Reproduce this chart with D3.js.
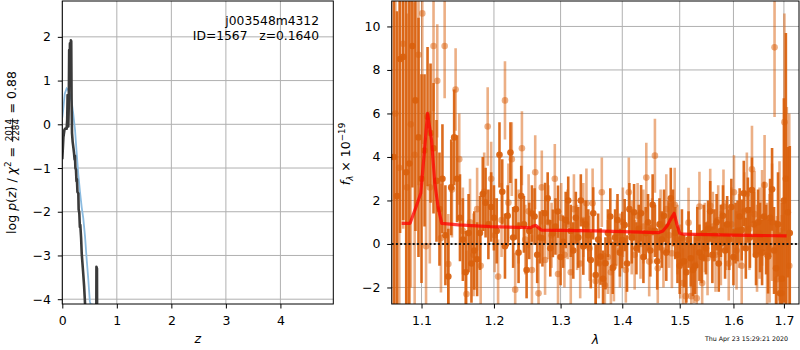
<!DOCTYPE html>
<html><head><meta charset="utf-8">
<script src="https://cdn.jsdelivr.net/npm/d3@7"></script>
<style>
body{margin:0;background:#fff;}
svg{display:block;font-family:"DejaVu Sans",sans-serif;}
</style></head><body>
<svg id="c" width="800" height="350"></svg>
<script>
// ---------------- DATA ----------------
// Left panel: log p(z)
const pzZ = [0.000,0.020,0.040,0.060,0.080,0.090,0.097,0.103,0.110,0.118,0.126,0.132,0.140,0.150,0.158,0.164,0.170,0.178,0.190,0.205,0.215,0.225,0.232,0.240,0.251,0.260,0.268,0.278,0.294,0.300,0.312,0.322,0.330,0.345,0.356,0.380,0.400,0.417,0.440,0.500,0.620,0.626,0.636,0.642,0.700,4.970];
const pzLog = [-0.80,-0.30,-0.12,-0.09,-0.10,0.10,0.67,0.10,-0.05,0.40,1.70,1.00,1.85,1.40,1.92,1.90,0.60,-0.20,-0.40,-0.55,-0.66,-0.80,-0.72,-1.00,-1.04,-1.30,-1.25,-1.55,-1.58,-1.95,-2.03,-2.35,-2.30,-2.60,-2.95,-3.35,-3.70,-4.10,-4.60,-6.0,-6.0,-3.26,-3.30,-6.0,-6.0,-6.0];
const priorZ = [0.000,0.018,0.045,0.080,0.110,0.140,0.172,0.200,0.233,0.264,0.294,0.325,0.356,0.385,0.417,0.448,0.477,0.505,0.520,0.540,0.560,0.650];
const priorLog = [0.15,0.35,0.70,0.82,0.78,0.68,0.52,0.25,-0.12,-0.66,-1.15,-1.55,-1.90,-2.15,-2.57,-3.10,-3.55,-4.05,-4.12,-4.12,-4.50,-6.0];
const zTicks = [0,1,2,3,4];
const pTicks = [-4,-3,-2,-1,0,1,2];

// Right panel: spectrum (dark beam)
const waveDark = [1.064,1.068,1.072,1.076,1.080,1.084,1.088,1.092,1.096,1.100,
1.104,1.108,1.112,1.116,1.120,1.124,1.128,1.132,1.136,1.140,
1.144,1.148,1.152,1.156,1.160,1.164,1.168,1.172,1.176,1.180,
1.184,1.188,1.192,1.196,1.200,1.204,1.208,1.212,1.216,1.220,
1.224,1.228,1.232,1.236,1.240,1.244,1.248,1.252,1.256,1.260,
1.264,1.268,1.272,1.276,1.280,1.284,1.288,1.292,1.296,1.300,
1.304,1.308,1.312,1.316,1.320,1.324,1.328,1.332,1.336,1.340,
1.344,1.348,1.352,1.356,1.360,1.364,1.368,1.372,1.376,1.380,
1.384,1.388,1.392,1.396,1.400,1.404,1.408,1.412,1.416,1.420,
1.424,1.428,1.432,1.436,1.440,1.444,1.448,1.452,1.456,1.460,
1.464,1.468,1.472,1.476,1.480,1.484,1.488,1.492,1.496,1.500,
1.504,1.508,1.512,1.516,1.520,1.524,1.528,1.532,1.536,1.540,
1.544,1.548,1.552,1.556,1.560,1.564,1.568,1.572,1.576,1.580,
1.584,1.588,1.592,1.596,1.600,1.604,1.608,1.612,1.616,1.620,
1.624,1.628,1.632,1.636,1.640,1.644,1.648,1.652,1.656,1.660,
1.664,1.668,1.672,1.676,1.680,1.684,1.688,1.692,1.696,1.700,
1.704,1.708,1.712];
const fluxDark = [4.0,2.2,8.5,8.6,3.3,3.7,9.1,6.6,4.9,3.0,
4.3,5.85,5.1,4.4,2.9,1.6,3.0,0.4,-1.5,2.6,
4.9,3.0,1.2,0.2,-1.3,0.5,-0.9,-0.3,-0.7,0.5,
2.3,1.9,0.9,1.7,1.2,0.6,4.1,2.4,-0.1,1.3,
4.2,0.3,1.6,-0.4,2.2,0.9,-1.2,0.6,1.4,1.26,
-0.5,0.3,0.26,1.41,2.1,-0.2,0.49,0.8,1.49,-0.6,
0.1,1.1,2.0,0.6,-0.3,1.2,0.3,2.0,-0.12,0.9,
0.4,-0.74,1.41,-1.43,0.2,-0.58,-1.6,-0.89,0.5,1.26,
-1.1,0.3,1.1,-0.4,0.18,0.87,-0.9,1.6,0.3,1.46,
-0.2,0.7,1.41,-0.6,0.5,1.0,-0.3,1.8,0.6,-0.8,
0.9,0.2,1.3,-0.4,0.8,2.1,1.2,0.5,-0.5,-1.0,
0.3,-0.8,-1.3,0.2,-0.66,-1.2,-1.0,0.3,-0.4,-0.6,
0.5,-0.2,0.7,1.5,-0.5,0.4,1.0,-0.9,0.6,1.3,
-0.3,0.9,0.2,1.7,-0.6,0.5,0.6,1.26,0.64,2.33,
-0.2,1.56,0.3,2.48,0.9,-0.5,1.0,0.3,-0.4,1.26,
0.2,-0.58,1.2,2.51,-0.3,-1.12,0.9,-2.27,-1.6,2.0,
3.0,1.46,0.5];
const errDark = [9.5,8.5,8.0,7.5,8.0,7.5,6.5,6.0,5.5,4.8,
3.5,3.2,3.2,3.0,2.8,2.6,2.5,2.3,2.2,2.2,
2.2,2.0,2.0,1.9,1.9,1.8,1.8,1.8,1.7,1.7,
1.7,1.6,1.6,1.6,1.5,1.5,1.5,1.5,1.5,1.4,
1.4,1.4,1.4,1.4,1.4,1.3,1.3,1.3,1.3,1.3,
1.3,1.2,1.3,1.4,1.2,1.3,1.1,1.3,1.2,1.3,
1.2,1.3,1.1,1.2,1.3,1.2,1.4,1.2,1.3,1.1,
1.2,1.3,1.2,1.4,1.2,1.3,1.3,1.2,1.1,1.3,
1.2,1.3,1.2,1.1,1.3,1.2,1.3,1.2,1.2,1.3,
1.2,1.1,1.3,1.2,1.2,1.3,1.2,1.4,1.2,1.3,
1.2,1.3,1.2,1.3,1.2,1.4,1.3,1.2,1.3,1.3,
1.3,1.2,1.4,1.3,1.3,1.2,1.3,1.4,1.3,1.2,
1.3,1.2,1.3,1.4,1.3,1.2,1.3,1.3,1.2,1.4,
1.3,1.3,1.4,1.3,1.3,1.4,1.4,1.3,1.4,1.5,
1.4,1.5,1.4,1.5,1.5,1.4,1.5,1.6,1.5,1.6,
1.6,1.7,1.8,1.9,2.0,2.2,2.4,2.8,3.5,4.7,
6.7,3.0,4.0];

// Right panel: spectrum (light beam)
const waveLight = [1.066,1.071,1.076,1.081,1.086,1.091,1.096,1.101,1.106,1.111,
1.116,1.121,1.126,1.131,1.136,1.141,1.146,1.151,1.156,1.161,
1.166,1.171,1.176,1.181,1.186,1.191,1.196,1.201,1.206,1.211,
1.216,1.221,1.226,1.231,1.236,1.241,1.246,1.251,1.256,1.261,
1.266,1.271,1.276,1.281,1.286,1.291,1.296,1.301,1.306,1.311,
1.316,1.321,1.326,1.331,1.336,1.341,1.346,1.351,1.356,1.361,
1.366,1.371,1.376,1.381,1.386,1.391,1.396,1.401,1.406,1.411,
1.416,1.421,1.426,1.431,1.436,1.441,1.446,1.451,1.456,1.461,
1.466,1.471,1.476,1.481,1.486,1.491,1.496,1.501,1.506,1.511,
1.516,1.521,1.526,1.531,1.536,1.541,1.546,1.551,1.556,1.561,
1.566,1.571,1.576,1.581,1.586,1.591,1.596,1.601,1.606,1.611,
1.616,1.621,1.626,1.631,1.636,1.641,1.646,1.651,1.656,1.661,
1.666,1.671,1.676,1.681,1.686,1.691,1.696,1.701,1.706,1.711];
const fluxLight = [6.0,3.5,9.2,2.6,5.5,4.1,8.7,10.6,-0.1,2.6,
9.1,7.5,0.27,9.1,-0.92,2.5,7.1,3.9,0.6,-2.3,
1.0,-0.5,1.6,-1.0,2.4,5.4,3.0,0.4,-1.5,1.1,
6.6,1.9,3.9,-2.1,0.8,4.4,0.2,1.5,-1.2,3.3,
-2.27,2.6,-0.74,1.0,0.4,3.0,-1.38,1.2,-0.5,0.9,
-1.3,1.6,0.3,-0.9,1.1,1.87,-0.2,1.87,-1.7,-0.9,
2.38,-1.9,-0.6,-1.3,-1.04,0.5,-0.3,1.0,-1.2,2.38,
0.3,-0.5,1.3,0.0,0.8,3.05,-0.81,0.6,4.06,-1.12,
0.9,-0.3,1.6,0.4,-0.43,1.8,0.2,-0.81,-1.8,-2.4,
0.98,-2.4,-1.12,-2.5,1.72,-1.8,0.3,-0.66,1.76,0.8,
-0.5,1.1,-0.2,1.72,0.4,-0.9,0.9,2.38,-0.3,0.6,
-1.0,1.5,2.3,0.7,3.43,1.37,-0.2,0.5,1.2,2.71,
-0.5,-0.2,1.0,9.04,-1.62,0.6,-2.27,5.6,0.3,-1.0];
const errLight = [9.5,9.0,8.5,8.0,7.5,7.0,6.0,6.0,5.0,3.5,
3.0,2.6,2.5,2.4,2.3,2.2,1.9,2.1,2.0,2.0,
2.0,1.9,1.9,1.8,1.8,1.8,1.7,1.7,1.7,1.7,
1.8,1.8,1.7,1.7,1.7,1.7,1.6,1.7,1.6,1.7,
1.6,1.7,1.6,1.7,1.5,1.6,1.7,1.6,1.5,1.6,
1.7,1.6,1.5,1.6,1.7,1.6,1.5,1.6,1.7,1.6,
1.6,1.5,1.7,1.6,1.6,1.5,1.7,1.6,1.5,1.6,
1.7,1.6,1.5,1.6,1.7,1.6,1.6,1.5,1.7,1.6,
1.6,1.7,1.6,1.5,1.6,1.7,1.6,1.7,1.6,1.7,
1.6,1.7,1.6,1.7,1.6,1.7,1.6,1.7,1.7,1.6,
1.7,1.6,1.7,1.7,1.6,1.7,1.7,1.7,1.8,1.7,
1.8,1.8,1.9,1.9,2.0,2.0,2.0,2.1,2.2,2.3,
2.4,2.5,2.7,3.2,2.9,3.2,3.6,5.0,6.0,7.0];

// Best-fit model
const modelWave = [1.074,1.085,1.093,1.099,1.1036,1.108,1.1133,1.1177,1.122,1.127,1.150,1.194,1.254,1.258,1.262,1.270,1.356,1.462,1.470,1.478,1.483,1.490,1.495,1.500,1.506,1.600,1.7055];
const modelFlux = [0.95,0.95,1.72,2.33,4.18,6.0,4.78,2.8,1.72,0.95,0.88,0.80,0.75,0.82,0.85,0.64,0.60,0.52,0.60,0.85,1.10,1.41,0.90,0.49,0.45,0.41,0.37];
const lamTicks = [1.1,1.2,1.3,1.4,1.5,1.6,1.7];
const fTicks = [-2,0,2,4,6,8,10];

const objName = "j003548m4312";
const objInfo = "ID=1567   z=0.1640";
const stamp = "Thu Apr 23 15:29:21 2020";

// ---------------- DRAW ----------------
const svg = d3.select('#c');
svg.append('rect').attr('width',800).attr('height',350).attr('fill','#fff');
const FS = 12.5;
const GRID = '#b0b0b0';

function panel(id, box, xs, ys, xt, yt, xfmt){
  const g = svg.append('g');
  g.append('clipPath').attr('id', id).append('rect')
    .attr('x', box.x0).attr('y', box.y0).attr('width', box.x1-box.x0).attr('height', box.y1-box.y0);
  const gr = g.append('g');
  gr.selectAll(null).data(xt).join('line')
    .attr('x1', d=>xs(d)).attr('x2', d=>xs(d)).attr('y1', box.y0).attr('y2', box.y1)
    .attr('stroke', GRID).attr('stroke-width', 1);
  gr.selectAll(null).data(yt).join('line')
    .attr('y1', d=>ys(d)).attr('y2', d=>ys(d)).attr('x1', box.x0).attr('x2', box.x1)
    .attr('stroke', GRID).attr('stroke-width', 1);
  const content = g.append('g').attr('clip-path', `url(#${id})`);
  return {g, content};
}
function axes(g, box, xs, ys, xt, yt, xfmt){
  const ax = g.append('g').attr('transform', `translate(0,${box.y1})`)
    .call(d3.axisBottom(xs).tickValues(xt).tickFormat(xfmt).tickSize(4.5).tickPadding(7.6).tickSizeOuter(0));
  const ay = g.append('g').attr('transform', `translate(${box.x0},0)`)
    .call(d3.axisLeft(ys).tickValues(yt).tickFormat(d3.format('d')).tickSize(4.5).tickPadding(6.8).tickSizeOuter(0));
  [ax, ay].forEach(a => {
    a.select('.domain').remove();
    a.attr('font-family', '"DejaVu Sans",sans-serif').attr('font-size', FS);
    a.selectAll('line').attr('stroke', '#000').attr('stroke-width', 1);
    a.selectAll('text').attr('fill', '#000');
  });
  g.append('rect').attr('x', box.x0).attr('y', box.y0).attr('width', box.x1-box.x0).attr('height', box.y1-box.y0)
    .attr('fill', 'none').attr('stroke', '#000').attr('stroke-width', 1);
}

// math-like label builder
function mathLabel(g, pieces){
  let x = 0;
  pieces.forEach(p => {
    if (p.frac){
      const n = g.append('text').attr('font-size', p.size).text(p.frac[0]);
      const d = g.append('text').attr('font-size', p.size).text(p.frac[1]);
      const w = Math.max(n.node().getComputedTextLength(), d.node().getComputedTextLength());
      const pad = 1.6;
      n.attr('x', x+pad+w/2).attr('y', p.ny).attr('text-anchor','middle');
      d.attr('x', x+pad+w/2).attr('y', p.dy).attr('text-anchor','middle');
      g.append('line').attr('x1', x+pad*0.6).attr('x2', x+pad*1.4+w).attr('y1', p.ly).attr('y2', p.ly)
        .attr('stroke','#000').attr('stroke-width',0.8);
      x += w + pad*2;
    } else {
      const t = g.append('text').attr('x', x).attr('y', p.dy||0).attr('font-size', p.size||FS)
        .attr('font-style', p.it ? 'italic' : null).style('white-space','pre').text(p.t);
      x += t.node().getComputedTextLength();
    }
  });
  return x;
}

// ----- Left panel -----
const LB = {x0:62.3, x1:333.3, y0:1, y1:304};
const xL = d3.scaleLinear().domain([0,4.97]).range([LB.x0,LB.x1]);
const yL = d3.scaleLinear().domain([-4.11,2.82]).range([LB.y1,LB.y0]);
const left = panel('clipL', LB, xL, yL, zTicks, pTicks);
const lineL = d3.line().x(d=>xL(d[0])).y(d=>yL(d[1]));
left.content.append('path').datum(d3.zip(priorZ, priorLog)).attr('d', lineL)
  .attr('fill','none').attr('stroke','#8bbbe0').attr('stroke-width',1.8);
left.content.append('path').datum(d3.zip(pzZ, pzLog)).attr('d', lineL)
  .attr('fill','none').attr('stroke','#3a3a3a').attr('stroke-width',2.6).attr('stroke-linejoin','round');
axes(left.g, LB, xL, yL, zTicks, pTicks, d3.format('d'));
left.g.append('text').attr('x', 319).attr('y', 24.5).attr('text-anchor','end').attr('font-size', 12.3).text(objName);
left.g.append('text').attr('x', 319).attr('y', 39.5).attr('text-anchor','end').attr('font-size', 12.3)
  .style('white-space','pre').text(objInfo);
left.g.append('text').attr('x', (LB.x0+LB.x1)/2).attr('y', 343).attr('text-anchor','middle')
  .attr('font-size', FS).attr('font-style','italic').text('z');
// y label
{
  const outer = svg.append('g').attr('transform', 'translate(15.5,152.5) rotate(-90)');
  const inner = outer.append('g');
  const w = mathLabel(inner, [
    {t:'log'}, {t:' '}, {t:'p', it:true}, {t:'('}, {t:'z', it:true}, {t:')'},
    {t:' / '}, {t:'χ', it:true}, {t:'2', size:8.8, dy:-5}, {t:' = '},
    {frac:['2014','2284'], size:8.8, ny:-3.9, dy:3.6, ly:-2.9},
    {t:' = 0.88'}
  ]);
  inner.attr('transform', `translate(${-w/2},0)`);
}

// ----- Right panel -----
const RB = {x0:391.7, x1:799, y0:1, y1:304};
const xR = d3.scaleLog().domain([1.0613,1.7311]).range([RB.x0,RB.x1]);
const yR = d3.scaleLinear().domain([-2.76,11.17]).range([RB.y1,RB.y0]);
const right = panel('clipR', RB, xR, yR, lamTicks, fTicks);
const ORANGE = '#d9600c';
function series(wave, flux, err, op){
  const data = d3.zip(wave, flux, err);
  const s = right.content.append('g').attr('opacity', op);
  const gg = right.content.append('g');
  gg.selectAll(null).data(data).join('line')
    .attr('x1', d=>xR(d[0])).attr('x2', d=>xR(d[0]))
    .attr('y1', d=>yR(d[1]-d[2])).attr('y2', d=>yR(d[1]+d[2]))
    .attr('stroke', ORANGE).attr('stroke-opacity', op).attr('stroke-width', 2.6);
  gg.selectAll(null).data(data).join('circle')
    .attr('cx', d=>xR(d[0])).attr('cy', d=>yR(d[1])).attr('r', 3.3)
    .attr('fill', ORANGE).attr('fill-opacity', op);
}
series(waveLight, fluxLight, errLight, 0.5);
series(waveDark, fluxDark, errDark, 0.92);
right.content.append('path').datum(d3.zip(modelWave, modelFlux))
  .attr('d', d3.line().x(d=>xR(d[0])).y(d=>yR(d[1])))
  .attr('fill','none').attr('stroke','#ff0000').attr('stroke-opacity',0.75).attr('stroke-width',3.2)
  .attr('stroke-linejoin','round');
right.content.append('line').attr('x1', RB.x0).attr('x2', RB.x1).attr('y1', yR(0)).attr('y2', yR(0))
  .attr('stroke','#111').attr('stroke-width',2).attr('stroke-dasharray','2,2.2');
axes(right.g, RB, xR, yR, lamTicks, fTicks, d3.format('.1f'));
right.g.append('text').attr('x', (RB.x0+RB.x1)/2).attr('y', 344).attr('text-anchor','middle')
  .attr('font-size', FS).attr('font-style','italic').text('λ');
{
  const outer = svg.append('g').attr('transform', 'translate(350,154) rotate(-90)');
  const inner = outer.append('g');
  const w = mathLabel(inner, [
    {t:'f', it:true}, {t:'λ', it:true, size:8.8, dy:2.6}, {t:' × 10'}, {t:'−19', size:8.8, dy:-5}
  ]);
  inner.attr('transform', `translate(${-w/2},0)`);
}
svg.append('text').attr('x', 788).attr('y', 341).attr('text-anchor','end').attr('font-size', 6.3).text(stamp);
</script>
</body></html>
